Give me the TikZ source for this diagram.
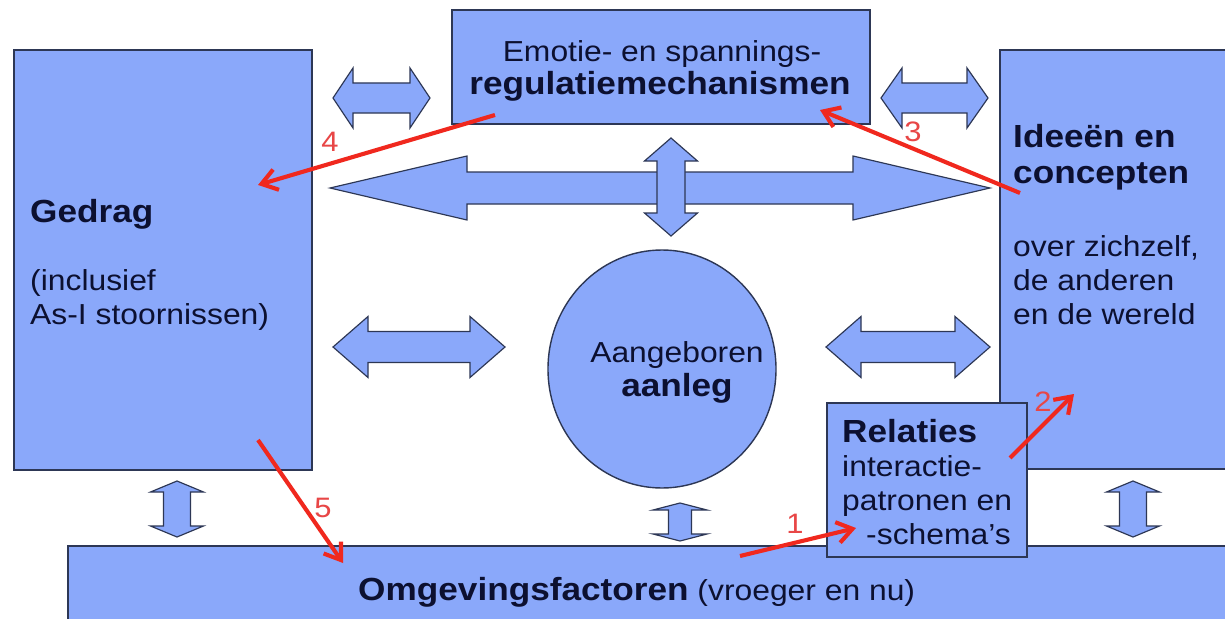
\documentclass[tikz,border=0pt]{standalone}
\usepackage{fontspec}
\setmainfont{Liberation Sans}[FakeStretch=1.1]
\usetikzlibrary{arrows.meta,fit}
\definecolor{boxblue}{RGB}{138,168,250}
\definecolor{edge}{RGB}{45,55,85}
\definecolor{ink}{RGB}{12,16,48}
\definecolor{redline}{RGB}{240,40,30}
\definecolor{rednum}{RGB}{232,70,70}
% horizontal double block arrow: x1, x2, yc, shaft half, head half, head length
\newcommand\hdarrow[6]{%
 \draw[blockarrow] (#1,#3) -- ({#1+#6},{#3-#5}) -- ({#1+#6},{#3-#4}) -- ({#2-#6},{#3-#4}) -- ({#2-#6},{#3-#5}) -- (#2,#3) -- ({#2-#6},{#3+#5}) -- ({#2-#6},{#3+#4}) -- ({#1+#6},{#3+#4}) -- ({#1+#6},{#3+#5}) -- cycle;}
% vertical double block arrow: y1, y2, xc, shaft half, head half, head length
\newcommand\vdarrow[6]{%
 \draw[blockarrow] (#3,#1) -- ({#3+#5},{#1+#6}) -- ({#3+#4},{#1+#6}) -- ({#3+#4},{#2-#6}) -- ({#3+#5},{#2-#6}) -- (#3,#2) -- ({#3-#5},{#2-#6}) -- ({#3-#4},{#2-#6}) -- ({#3-#4},{#1+#6}) -- ({#3-#5},{#1+#6}) -- cycle;}
\begin{document}
\begin{tikzpicture}[x=0.03cm,y=-0.03cm,
  box/.style={draw=edge, line width=1.2pt, fill=boxblue, inner sep=0pt, outer sep=0pt},
  blockarrow/.style={draw=edge, line width=1pt, fill=boxblue, line join=miter},
  reg/.style={font=\fontsize{24.7}{29}\selectfont, text=ink, inner sep=0pt},
  bld/.style={font=\fontsize{27.3}{32}\selectfont\bfseries, text=ink, inner sep=0pt},
  redarrow/.style={draw=redline, line width=3.5pt, -{Straight Barb[length=13pt,width=18pt]}},
  num/.style={font=\fontsize{24}{28}\selectfont, text=rednum, inner sep=0pt}]
\path[use as bounding box, clip] (0,0) rectangle (1225,619);
\fill[white] (0,0) rectangle (1225,619);
% boxes
\node[box, fit={(14,50) (312,470)}] (gedrag) {};
\node[box, fit={(452,10) (870,124)}] (emotie) {};
\node[box, fit={(1000,50) (1240,469)}] (ideeen) {};
\node[box, fit={(68,546) (1240,640)}] (omgeving) {};
\node[box, fit={(827,403) (1027,557)}] (relaties) {};
\draw[box] (662,369) ellipse [x radius=114, y radius=119];
\coordinate (aanlegc) at (662,369);
% block arrows
\hdarrow{333}{430}{98}{15}{30}{20}
\hdarrow{881}{988}{98}{15}{30}{21}
\hdarrow{330}{990}{188}{16}{32}{137}
\vdarrow{138}{236}{671}{14}{26.5}{23}
\hdarrow{333}{505}{347}{15.5}{30.5}{35}
\hdarrow{826}{990}{347}{15.5}{30.5}{35}
\vdarrow{481}{537}{177}{13.5}{26.5}{11}
\vdarrow{481}{537}{1133}{13.5}{26.5}{11}
\vdarrow{503}{541}{680}{11.5}{27}{7}
% texts
\node[reg, anchor=base] (t1) at (662,62) {Emotie- en spannings-};
\node[bld, anchor=base] (t2) at (660,94) {regulatiemechanismen};
\node[bld, anchor=base west] (t3) at (30,222) {Gedrag};
\node[reg, anchor=base west] (t4) at (30,290) {(inclusief};
\node[reg, anchor=base west] (t5) at (30,324) {As-I stoornissen)};
\node[bld, anchor=base west] (t6) at (1013,148) {Ideeën en};
\node[bld, anchor=base west] (t7) at (1013,183) {concepten};
\node[reg, anchor=base west] (t8) at (1013,256) {over zichzelf,};
\node[reg, anchor=base west] (t9) at (1013,290) {de anderen};
\node[reg, anchor=base west] (t10) at (1013,324) {en de wereld};
\node[reg, anchor=base] (t11) at (677,362) {Aangeboren};
\node[bld, anchor=base] (t12) at (677,396) {aanleg};
\node[bld, anchor=base west] (t13) at (842,442) {Relaties};
\node[reg, anchor=base west] (t14) at (842,476) {interactie-};
\node[reg, anchor=base west] (t15) at (842,510) {patronen en};
\node[reg, anchor=base west] (t16) at (866,544) {-schema’s};
\node[reg, anchor=base west] (t17) at (358,600) {{\fontsize{27.3}{32}\selectfont\bfseries Omgevingsfactoren} (vroeger en nu)};
% red arrows
\coordinate (r4s) at (495,115); \coordinate (r4e) at (258,185);
\coordinate (r3s) at (1020,193); \coordinate (r3e) at (820,110);
\coordinate (r2s) at (1010,458); \coordinate (r2e) at (1074,394);
\coordinate (r1s) at (740,556); \coordinate (r1e) at (856,528);
\coordinate (r5s) at (258,440); \coordinate (r5e) at (343,563);
\draw[redarrow] (r4s) -- (r4e);
\draw[redarrow] (r3s) -- (r3e);
\draw[redarrow] (r2s) -- (r2e);
\draw[redarrow] (r1s) -- (r1e);
\draw[redarrow] (r5s) -- (r5e);
\node[num] (n4) at (330,142) {4};
\node[num] (n3) at (913,132) {3};
\node[num] (n2) at (1043,402) {2};
\node[num] (n1) at (795,524) {1};
\node[num] (n5) at (323,508) {5};
\end{tikzpicture}
\end{document}
